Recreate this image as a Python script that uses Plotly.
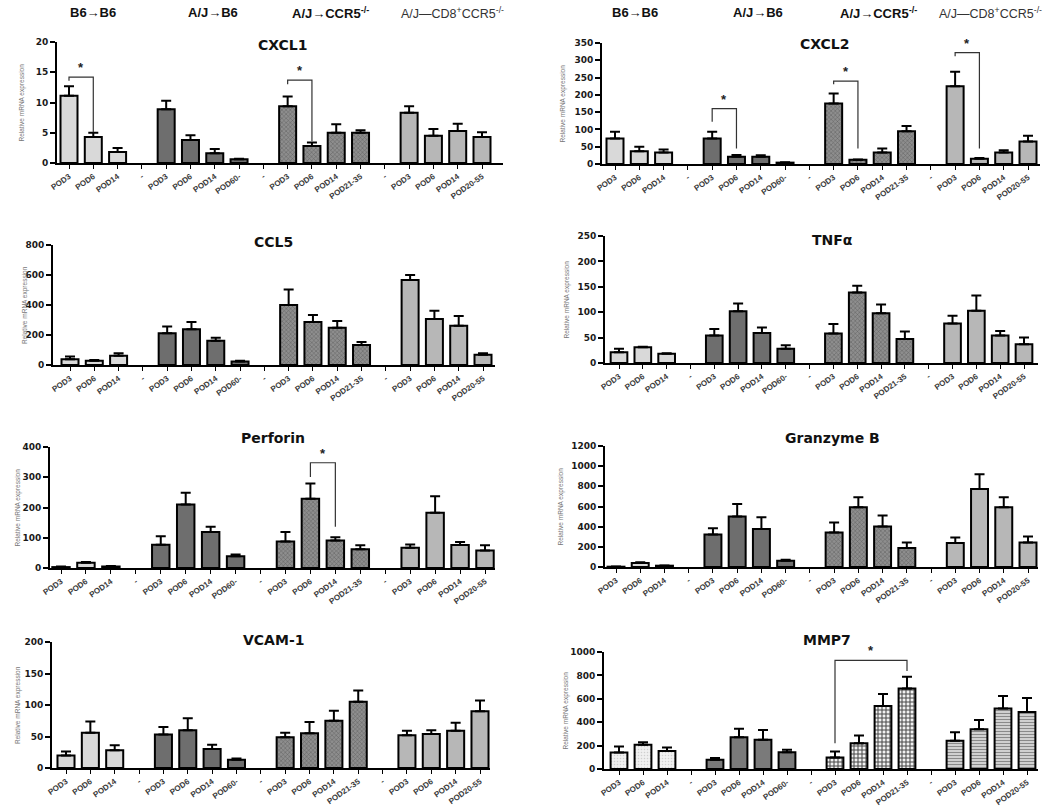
import plotly.graph_objects as go

# ---------------- data ----------------
CATEGORIES = ["POD3", "POD6", "POD14", "-",
              "POD3", "POD6", "POD14", "POD60-", "-",
              "POD3", "POD6", "POD14", "POD21-35", "-",
              "POD3", "POD6", "POD14", "POD20-55"]
GROUP_NAMES = ["B6→B6", "A/J→B6", "A/J→CCR5<sup>-/-</sup>", "A/J—CD8<sup>+</sup>CCR5<sup>-/-</sup>"]
GENES = ["CXCL1", "CXCL2", "CCL5", "TNFα", "Perforin", "Granzyme B", "VCAM-1", "MMP7"]
AXIS_MAX = [20, 350, 800, 250, 400, 1200, 200, 1000]
AXIS_STEP = [5, 50, 200, 50, 100, 200, 50, 200]

CXCL1_MEAN = [11.1, 4.3, 1.8, 8.9, 3.8, 1.6, 0.6, 9.4, 2.8, 5.0, 5.0, 8.3, 4.5, 5.3, 4.3]
CXCL1_SEM = [1.6, 0.7, 0.7, 1.4, 0.8, 0.7, 0.1, 1.6, 0.6, 1.4, 0.4, 1.1, 1.1, 1.2, 0.8]
CXCL2_MEAN = [74, 37, 33, 74, 21, 21, 4, 175, 12, 33, 95, 225, 15, 33, 65]
CXCL2_SEM = [19, 13, 9, 19, 5, 4, 1, 29, 1, 12, 15, 42, 2, 7, 17]
CCL5_MEAN = [38, 29, 62, 211, 238, 162, 24, 400, 287, 249, 133, 567, 307, 262, 69]
CCL5_SEM = [18, 4, 16, 45, 49, 20, 5, 104, 46, 44, 20, 33, 55, 65, 9]
TNFA_MEAN = [21, 31, 18, 54, 102, 59, 28, 58, 139, 98, 47, 78, 103, 54, 37]
TNFA_SEM = [7, 1, 1, 13, 15, 11, 7, 19, 13, 17, 15, 15, 30, 9, 13]
PERFORIN_MEAN = [3, 17, 5, 77, 210, 119, 39, 88, 229, 91, 62, 67, 183, 76, 58]
PERFORIN_SEM = [2, 3, 2, 28, 39, 17, 6, 31, 50, 11, 13, 11, 54, 10, 17]
GRANZYME_MEAN = [3, 40, 13, 322, 500, 378, 62, 342, 592, 401, 188, 237, 773, 592, 243]
GRANZYME_SEM = [2, 6, 3, 63, 125, 115, 10, 99, 99, 109, 55, 56, 148, 99, 60]
VCAM1_MEAN = [20, 56, 28, 53, 60, 30, 13, 49, 55, 75, 105, 52, 54, 59, 90]
VCAM1_SEM = [6, 18, 8, 12, 19, 7, 2, 7, 18, 16, 18, 7, 6, 13, 17]
MMP7_MEAN = [142, 207, 153, 79, 272, 249, 144, 99, 221, 538, 688, 241, 340, 518, 487]
MMP7_SEM = [51, 22, 31, 14, 71, 85, 20, 51, 65, 102, 100, 73, 79, 105, 119]

# significance brackets: [left position, right position, left end, top, right end]
CXCL1_SIG = [[0, 1, 13.6, 14.2, 5.1], [9, 10, 13.0, 13.7, 3.6]]
CXCL2_SIG = [[4, 5, 122, 160, 45], [9, 10, 231, 240, 45], [14, 15, 312, 322, 45]]
PERFORIN_SIG = [[10, 11, 301, 348, 136]]
MMP7_SIG = [[9, 12, 221, 929, 838]]

MEANS = [CXCL1_MEAN, CXCL2_MEAN, CCL5_MEAN, TNFA_MEAN, PERFORIN_MEAN, GRANZYME_MEAN, VCAM1_MEAN, MMP7_MEAN]
SEMS = [CXCL1_SEM, CXCL2_SEM, CCL5_SEM, TNFA_SEM, PERFORIN_SEM, GRANZYME_SEM, VCAM1_SEM, MMP7_SEM]
SIGS = [CXCL1_SIG, CXCL2_SIG, [], [], PERFORIN_SIG, [], [], MMP7_SIG]

# ---------------- layout geometry (pixels) ----------------
W, H = 1050, 807
# axis x, first bar x, last bar x, axis end x, top y, zero y
GEOM = [
    (57, 69, 482, 503, 42, 163),
    (602, 615, 1028, 1040, 43, 164),
    (53, 70, 483, 495, 245, 365),
    (605, 619, 1024, 1038, 236, 363),
    (50, 61, 485, 495, 447, 568),
    (605, 616, 1028, 1038, 446, 567),
    (52, 66, 480, 490, 642, 768),
    (604, 619, 1027, 1038, 652, 769),
]
TITLE_POS = [(283, 45), (825, 44), (273, 242), (832, 240), (273, 438), (832, 438), (273, 640), (827, 640)]
YTITLE_X = [22, 562, 25, 567, 17, 560, 18, 565]


def style_for(panel, g):
    if g == 0:
        if panel == 7:
            return dict(color="#ececec", pattern=dict(shape=".", fgcolor="#cfcfcf", bgcolor="#f0f0f0", size=3, solidity=0.2))
        return dict(color="#d9d9d9")
    if g == 1:
        c = "#7a7a7a" if panel == 7 else "#6e6e6e"
        return dict(color=c)
    if g == 2:
        if panel == 7:
            return dict(color="#a0a0a0", pattern=dict(shape="+", fgcolor="#4a4a4a", bgcolor="#f2f2f2", size=4, solidity=0.45))
        return dict(color="#858585", pattern=dict(shape="x", fgcolor="#5e5e5e", bgcolor="#8e8e8e", size=3, solidity=0.3))
    if panel == 7:
        return dict(color="#c0c0c0", pattern=dict(shape="-", fgcolor="#8a8a8a", bgcolor="#d0d0d0", size=3, solidity=0.35))
    return dict(color="#b7b7b7")


# group positions derived from the category list
group_positions = []
cur = []
for i, c in enumerate(CATEGORIES):
    if c == "-":
        group_positions.append(cur)
        cur = []
    else:
        cur.append(i)
group_positions.append(cur)

fig = go.Figure()
layout = dict(width=W, height=H, margin=dict(l=0, r=0, t=0, b=0),
              template="none", plot_bgcolor="white", paper_bgcolor="white",
              showlegend=False, bargap=0.3)
annotations = []
shapes = []

for p in range(8):
    ax, first, last, end, top, bottom = GEOM[p]
    sp = (last - first) / 17.0
    r0 = -(first - ax) / sp
    r1 = 17 + (end - last) / sp
    xname = "x" if p == 0 else f"x{p+1}"
    yname = "y" if p == 0 else f"y{p+1}"
    xkey = "xaxis" if p == 0 else f"xaxis{p+1}"
    ykey = "yaxis" if p == 0 else f"yaxis{p+1}"
    layout[xkey] = dict(domain=[ax / W, end / W], range=[r0, r1], anchor=yname,
                        showline=True, linecolor="black", linewidth=1.8,
                        ticks="outside", ticklen=4, tickwidth=1.2, tickcolor="black",
                        tickvals=list(range(len(CATEGORIES))), ticktext=CATEGORIES,
                        tickangle=-35, showgrid=False, zeroline=False,
                        tickfont=dict(family="Liberation Sans", size=8, color="#3a3a3a", weight="bold"),
                        automargin=False, fixedrange=True)
    layout[ykey] = dict(domain=[1 - bottom / H, 1 - top / H], range=[0, AXIS_MAX[p]], anchor=xname,
                        showline=True, linecolor="black", linewidth=1.8,
                        ticks="outside", ticklen=5, tickwidth=1.8, tickcolor="black",
                        tick0=0, dtick=AXIS_STEP[p], showgrid=False, zeroline=False,
                        tickfont=dict(family="DejaVu Sans", size=9, color="#1a1a1a", weight="bold"),
                        automargin=False, fixedrange=True)

    k = 0
    for g, pos in enumerate(group_positions):
        n = len(pos)
        means = MEANS[p][k:k + n]
        sems = SEMS[p][k:k + n]
        k += n
        st = style_for(p, g)
        marker = dict(color=st["color"], line=dict(color="black", width=2))
        if "pattern" in st:
            marker["pattern"] = st["pattern"]
        fig.add_trace(go.Bar(x=pos, y=means, width=0.7, marker=marker,
                             error_y=dict(type="data", array=sems, arrayminus=[0] * n, symmetric=False,
                                          color="black", thickness=2, width=5),
                             xaxis=xname, yaxis=yname, hoverinfo="skip"))

    # significance brackets
    for (xl, xr, yl, yt, yr) in SIGS[p]:
        shapes.append(dict(type="path", xref=xname, yref=yname,
                           path=f"M {xl},{yl} L {xl},{yt} L {xr},{yt} L {xr},{yr}",
                           line=dict(color="#333333", width=1.2)))
        annotations.append(dict(x=(xl + xr) / 2, y=yt, xref=xname, yref=yname, text="*",
                                showarrow=False, yanchor="bottom", yshift=0,
                                font=dict(family="Liberation Sans", size=13, color="#222222", weight="bold")))

    # panel title
    tx, ty = TITLE_POS[p]
    annotations.append(dict(x=tx / W, y=1 - ty / H, xref="paper", yref="paper", text=GENES[p],
                            showarrow=False, xanchor="center", yanchor="middle",
                            font=dict(family="DejaVu Sans", size=14, color="#111", weight="bold")))
    # y-axis title
    annotations.append(dict(x=YTITLE_X[p] / W, y=1 - (top + bottom) / 2 / H, xref="paper", yref="paper",
                            text="Relative mRNA expression", textangle=-90, showarrow=False,
                            xanchor="center", yanchor="middle",
                            font=dict(family="Liberation Sans Narrow, Liberation Sans", size=6.5, color="#777")))

# group headers
HEADER_X = [[93, 213, 330, 452], [635, 758, 878, 990]]
for row in HEADER_X:
    for g, hx in enumerate(row):
        bold = g < 3
        annotations.append(dict(x=hx / W, y=1 - 13 / H, xref="paper", yref="paper", text=GROUP_NAMES[g],
                                showarrow=False, xanchor="center", yanchor="middle",
                                font=dict(family="Liberation Sans", size=13 if bold else 12.5,
                                          color="#111" if bold else "#333",
                                          weight="bold" if bold else "normal")))

layout["annotations"] = annotations
layout["shapes"] = shapes
fig.update_layout(**layout)
fig.write_html("out.html", config={"displayModeBar": False},
               post_script="document.body.style.margin='0';document.body.style.overflow='hidden';")
